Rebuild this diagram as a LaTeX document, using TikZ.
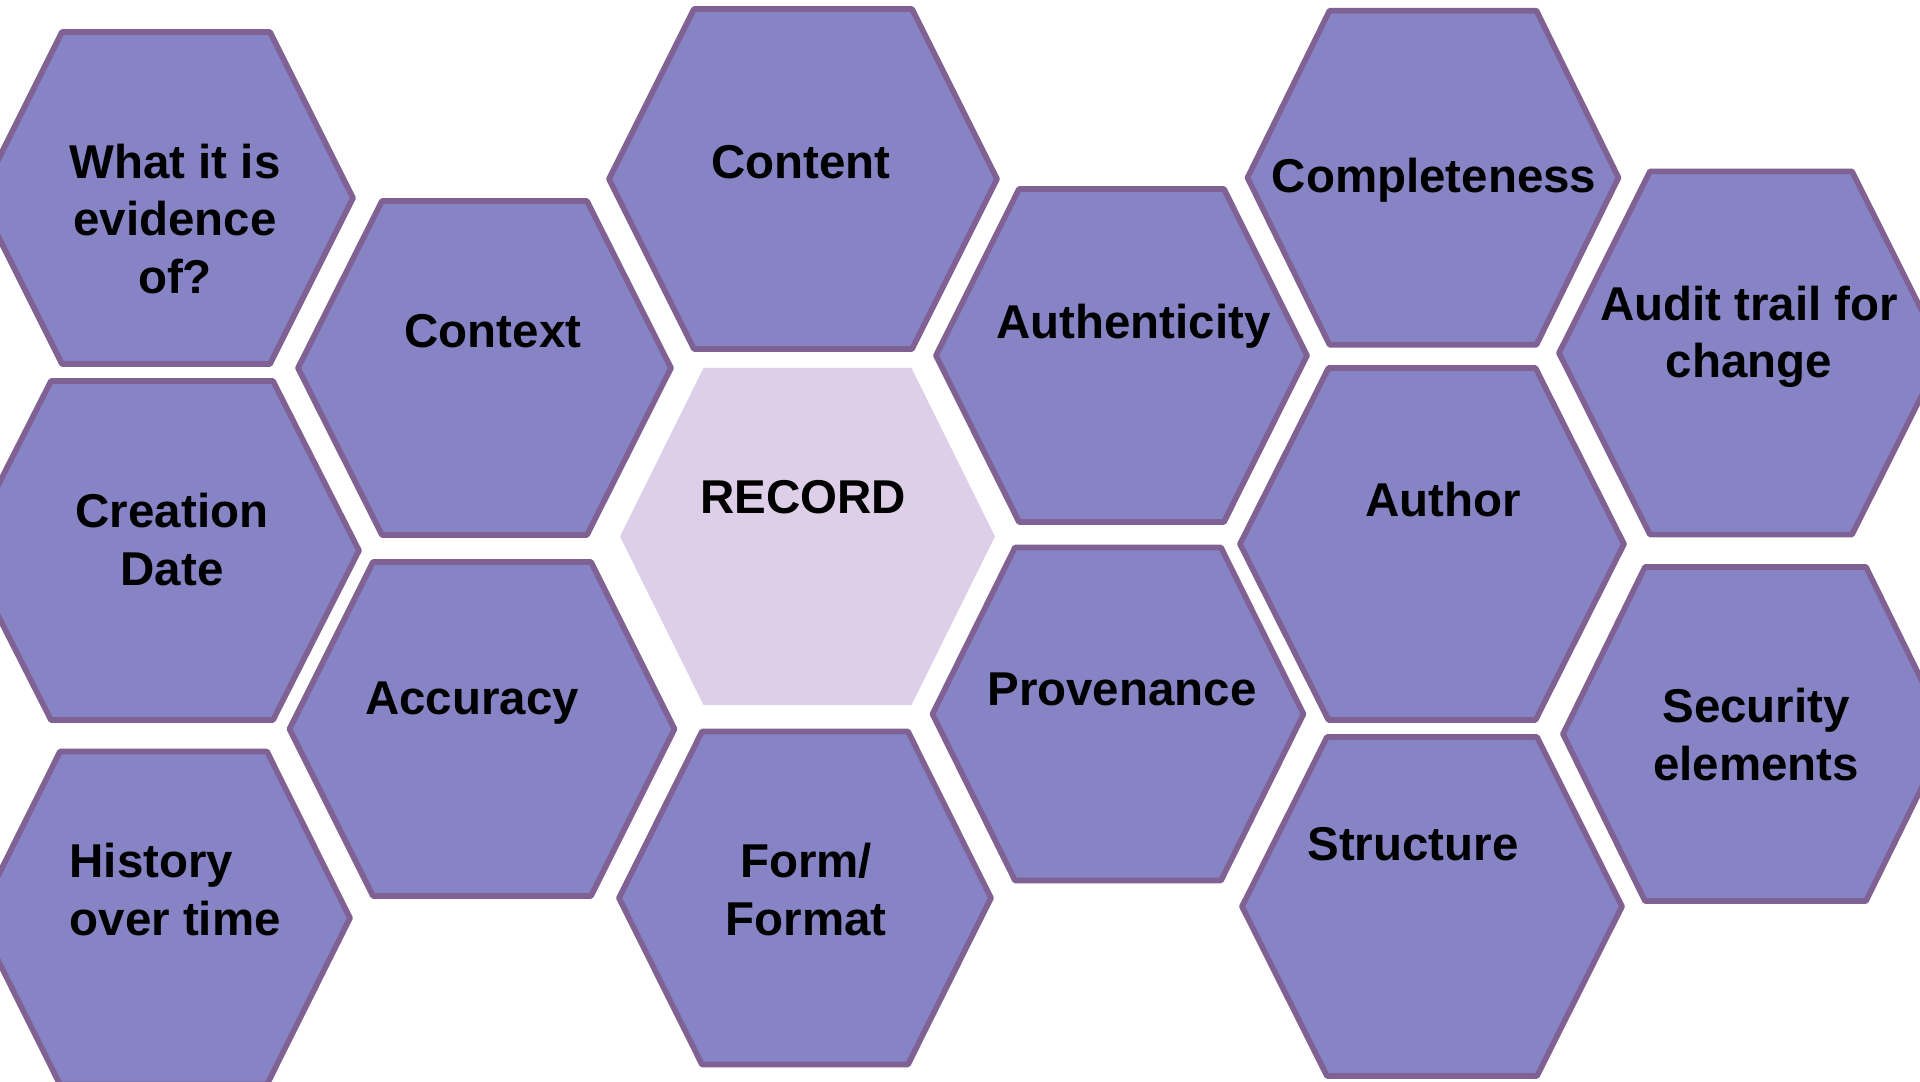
\documentclass[tikz,border=0pt]{standalone}
\usepackage{fontspec}
\setmainfont{Liberation Sans}
\definecolor{hexfill}{HTML}{8784C5}
\definecolor{hexline}{HTML}{7F6193}
\definecolor{recfill}{HTML}{DECFE8}
\tikzset{
  hexcell/.style={fill=hexfill, draw=hexline, line width=1.6pt, line join=round},
  reccell/.style={fill=recfill},
  hexlabel/.style={font=\fontsize{13.5}{16.4}\selectfont\bfseries, align=center, inner sep=0pt, anchor=base}
}
% centre x, centre y, half top edge, half width, half height
\newcommand{\hexagon}[6][hexcell]{%
  \path[#1] (#2-#4,#3-#6) -- (#2+#4,#3-#6) -- (#2+#5,#3) -- (#2+#4,#3+#6)
    -- (#2-#4,#3+#6) -- (#2-#5,#3) -- cycle;}
\begin{document}
\begin{tikzpicture}[x=0.01cm, y=-0.01cm]
  \useasboundingbox (0,0) rectangle (1920,1082);
  \clip (0,0) rectangle (1920,1082);
  % cells
  \hexagon{166}{198}{104}{187}{166}
  \hexagon{484.5}{368}{102.5}{186.5}{167}
  \hexagon{803}{179}{109}{194}{170}
  \hexagon{1121.5}{355.5}{102.5}{185.5}{166.5}
  \hexagon{1433}{177.7}{103.5}{185.5}{167}
  \hexagon{1751}{353}{101}{192}{181.6}
  \hexagon{162}{550.5}{111}{197}{169.5}
  \hexagon[reccell]{807.5}{536.5}{104}{187.5}{168.5}
  \hexagon{1432}{544}{103.5}{192}{176}
  \hexagon{482}{729}{109}{192.5}{167}
  \hexagon{1118}{714}{103}{185.5}{166.5}
  \hexagon{1755.5}{734}{110.5}{192.5}{167}
  \hexagon{163.5}{918}{103.5}{186.5}{166.5}
  \hexagon{805}{898}{103}{186}{166.5}
  \hexagon{1432}{906.5}{105}{190}{169.5}
  % labels (base = last line)
  \node[hexlabel] (evidence) at (175,293.6) {What it is\\evidence\\of?};
  \node[hexlabel] (context) at (493,348) {Context};
  \node[hexlabel] (content) at (801,178.6) {Content};
  \node[hexlabel] (authenticity) at (1133.5,338.6) {Authenticity};
  \node[hexlabel] (completeness) at (1434,193) {Completeness};
  \node[hexlabel] (audit) at (1749,378) {Audit trail for\\change};
  \node[hexlabel] (creation) at (172,585) {Creation\\Date};
  \node[hexlabel] (record) at (803,514) {RECORD};
  \node[hexlabel] (author) at (1443,516) {Author};
  \node[hexlabel] (accuracy) at (472,714.6) {Accuracy};
  \node[hexlabel] (provenance) at (1122,705) {Provenance};
  \node[hexlabel] (security) at (1756,780) {Security\\elements};
  \node[hexlabel, align=left, anchor=base west] (history) at (69,935) {History\\over time};
  \node[hexlabel] (form) at (806,935) {Form/\\Format};
  \node[hexlabel] (structure) at (1413,860.8) {Structure};
\end{tikzpicture}
\end{document}
